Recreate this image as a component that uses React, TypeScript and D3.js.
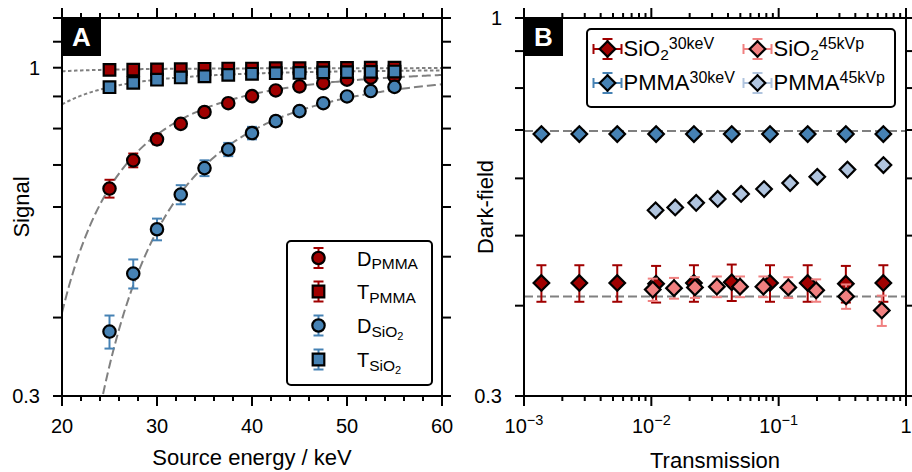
import React from 'react';
import * as d3 from 'd3';

// Panel A: signal vs source energy
const energies = [25, 27.5, 30, 32.5, 35, 37.5, 40, 42.5, 45, 47.5, 50, 52.5, 55];
const dPmma = [0.642, 0.712, 0.769, 0.814, 0.85, 0.878, 0.901, 0.92, 0.934, 0.945, 0.957, 0.964, 0.968];
const dPmmaErr = [0.021, 0.018, 0.014, 0.01, 0.008, 0.007, 0.006, 0.006, 0.005, 0.005, 0.005, 0.005, 0.005];
const tPmma = [0.992, 0.993, 0.994, 0.995, 0.996, 0.997, 0.997, 0.998, 0.998, 0.999, 0.999, 1.0, 1.0];
const tPmmaErr = [0.006, 0.006, 0.005, 0.005, 0.005, 0.005, 0.005, 0.005, 0.005, 0.005, 0.005, 0.005, 0.005];
const dSio2 = [0.38, 0.47, 0.553, 0.628, 0.692, 0.741, 0.787, 0.822, 0.853, 0.878, 0.9, 0.918, 0.932];
const dSio2Err = [0.023, 0.025, 0.022, 0.022, 0.02, 0.018, 0.018, 0.015, 0.012, 0.01, 0.008, 0.008, 0.007];
const tSio2 = [0.931, 0.946, 0.957, 0.965, 0.969, 0.974, 0.978, 0.98, 0.981, 0.983, 0.984, 0.985, 0.986];
const tSio2Err = [0.005, 0.005, 0.005, 0.005, 0.004, 0.004, 0.004, 0.004, 0.004, 0.004, 0.004, 0.004, 0.004];

// fit parameters (D = exp(-a (e0/E)^n), T = exp(-(a (20/E)^3 + c)))
const fitDPmma = { a: 0.899, e0: 20, n: 3.2 };
const fitDSio2 = { a: 0.779, e0: 27.7, n: 3.3 };
const fitTPmma = { a: 0.012, c: 0.001 };
const fitTSio2 = { a: 0.1295, c: 0.0052 };

// Panel B: dark-field vs transmission
const trans30 = [0.00137, 0.00272, 0.0054, 0.0109, 0.0216, 0.0428, 0.0855, 0.169, 0.337, 0.664];
const sio230 = [0.43, 0.43, 0.43, 0.429, 0.43, 0.431, 0.43, 0.43, 0.429, 0.43];
const sio230Err = [0.025, 0.025, 0.025, 0.025, 0.025, 0.025, 0.025, 0.025, 0.025, 0.025];
const pmma30 = [0.691, 0.691, 0.691, 0.691, 0.691, 0.691, 0.691, 0.691, 0.691, 0.691];
const pmma30Err = [0.008, 0.008, 0.008, 0.008, 0.008, 0.008, 0.008, 0.008, 0.008, 0.008];
const transSio245 = [0.01026, 0.01507, 0.022, 0.0327, 0.0497, 0.0759, 0.119, 0.197, 0.3385, 0.6455];
const sio245 = [0.421, 0.423, 0.424, 0.425, 0.425, 0.425, 0.424, 0.42, 0.412, 0.394];
const sio245Err = [0.015, 0.014, 0.014, 0.014, 0.014, 0.014, 0.014, 0.015, 0.016, 0.019];
const transPmma45 = [0.0108, 0.0154, 0.0225, 0.0332, 0.0507, 0.0768, 0.123, 0.201, 0.347, 0.665];
const pmma45 = [0.542, 0.547, 0.555, 0.562, 0.571, 0.58, 0.591, 0.603, 0.617, 0.626];
const pmma45Err = [0.007, 0.007, 0.007, 0.007, 0.007, 0.007, 0.007, 0.007, 0.007, 0.007];
const refPmma = 0.698;
const refSio2 = 0.412;

const FONT = '"Liberation Sans", Arial, Helvetica, sans-serif';
const RED = '#a00000';
const BLUE = '#4682b4';
const LRED = '#f08080';
const LBLUE = '#b0c4de';
const GREY = '#808080';

const PA = { left: 62, right: 442, top: 18, bottom: 396 };
const PB = { left: 524, right: 906, top: 18, bottom: 396 };

const xA = d3.scaleLinear().domain([20, 60]).range([PA.left, PA.right]);
const yA = d3.scaleLog().domain([0.3, 1.2]).range([PA.bottom, PA.top]);
const xB = d3.scaleLog().domain([1e-3, 1]).range([PB.left, PB.right]);
const yB = d3.scaleLog().domain([0.3, 1]).range([PB.bottom, PB.top]);

type Shape = 'circle' | 'square' | 'diamond';

function markerPath(shape: Shape, cx: number, cy: number) {
  if (shape === 'circle') {
    const r = 6.2;
    return `M${cx - r},${cy}a${r},${r} 0 1,0 ${2 * r},0a${r},${r} 0 1,0 ${-2 * r},0Z`;
  }
  if (shape === 'square') {
    const h = 5.8;
    return `M${cx - h},${cy - h}H${cx + h}V${cy + h}H${cx - h}Z`;
  }
  const r = 7.8;
  return `M${cx},${cy - r}L${cx + r},${cy}L${cx},${cy + r}L${cx - r},${cy}Z`;
}

function Series({ xs, ys, errs, xs2, shape, color, ecolor, fill }: any) {
  const x = xs2 as (v: number) => number;
  return (
    <g>
      {xs.map((xv: number, i: number) => {
        const px = x(xv);
        const y0 = ys.scale(ys.v[i] - errs[i]);
        const y1 = ys.scale(ys.v[i] + errs[i]);
        return (
          <g key={'e' + i} stroke={ecolor} strokeWidth={2}>
            <line x1={px} x2={px} y1={y0} y2={y1} />
            <line x1={px - 5} x2={px + 5} y1={y0} y2={y0} />
            <line x1={px - 5} x2={px + 5} y1={y1} y2={y1} />
          </g>
        );
      })}
      {xs.map((xv: number, i: number) => (
        <path key={'m' + i} d={markerPath(shape, x(xv), ys.scale(ys.v[i]))} fill={fill ?? color} stroke="#000" strokeWidth={2.2} />
      ))}
    </g>
  );
}

function Frame({ p, xTicks, yTicks, xs, ys }: any) {
  return (
    <g stroke="#000" strokeWidth={2} fill="none">
      <rect x={p.left} y={p.top} width={p.right - p.left} height={p.bottom - p.top} />
      {xTicks.map((t: any, i: number) => {
        const px = xs(t.v);
        const len = t.major ? 10 : 5;
        return (
          <g key={'x' + i}>
            <line x1={px} x2={px} y1={p.bottom} y2={p.bottom + len} />
            <line x1={px} x2={px} y1={p.top} y2={p.top - len} />
          </g>
        );
      })}
      {yTicks.map((v: number, i: number) => {
        const py = ys(v);
        return (
          <g key={'y' + i}>
            <line x1={p.left} x2={p.left - 9} y1={py} y2={py} />
            <line x1={p.right} x2={p.right + 9} y1={py} y2={py} />
          </g>
        );
      })}
    </g>
  );
}

function PanelTag({ x, y, label }: any) {
  return (
    <g>
      <rect x={x} y={y} width={39} height={38} fill="#000" />
      <text x={x + 19.5} y={y + 28} textAnchor="middle" fontFamily={FONT} fontWeight="bold" fontSize={26} fill="#fff">{label}</text>
    </g>
  );
}

function LegendMarkA({ x, y, shape, color }: any) {
  return (
    <g>
      <g stroke={color} strokeWidth={2}>
        <line x1={x} x2={x} y1={y - 10} y2={y + 10} />
        <line x1={x - 5} x2={x + 5} y1={y - 10} y2={y - 10} />
        <line x1={x - 5} x2={x + 5} y1={y + 10} y2={y + 10} />
      </g>
      <path d={markerPath(shape, x, y)} fill={color} stroke="#000" strokeWidth={2.2} />
    </g>
  );
}

function LegendMarkB({ x, y, color, ecolor }: any) {
  return (
    <g>
      <g stroke={ecolor} strokeWidth={2}>
        <line x1={x} x2={x} y1={y - 10} y2={y + 10} />
        <line x1={x - 5} x2={x + 5} y1={y - 10} y2={y - 10} />
        <line x1={x - 5} x2={x + 5} y1={y + 10} y2={y + 10} />
        <line x1={x - 14} x2={x + 14} y1={y} y2={y} />
        <line x1={x - 14} x2={x - 14} y1={y - 5} y2={y + 5} />
        <line x1={x + 14} x2={x + 14} y1={y - 5} y2={y + 5} />
      </g>
      <path d={markerPath('diamond', x, y)} fill={color} stroke="#000" strokeWidth={2.2} />
    </g>
  );
}

export default function App() {
  const eGrid = d3.range(20, 60.001, 0.25);
  const line = d3.line<[number, number]>().x((d) => xA(d[0])).y((d) => yA(d[1]));
  const dFit = (f: any) => eGrid.map((e) => [e, Math.exp(-f.a * Math.pow(f.e0 / e, f.n))] as [number, number]);
  const tFit = (f: any) => eGrid.map((e) => [e, Math.exp(-(f.a * Math.pow(20 / e, 3) + f.c))] as [number, number]);

  const xTicksA = d3.range(20, 60.001, 2).map((v) => ({ v, major: v % 10 === 0 }));
  const yTicksA = [0.3, 0.4, 0.5, 0.6, 0.7, 0.8, 0.9, 1.0, 1.1, 1.2];
  const xTicksB: { v: number; major: boolean }[] = [];
  [-3, -2, -1].forEach((k) => {
    for (let m = 1; m < 10; m++) xTicksB.push({ v: m * Math.pow(10, k), major: m === 1 });
  });
  xTicksB.push({ v: 1, major: true });
  const yTicksB = [0.3, 0.4, 0.5, 0.6, 0.7, 0.8, 0.9, 1.0];

  const ysA = (v: number[]) => ({ v, scale: yA });
  const ysB = (v: number[]) => ({ v, scale: yB });

  return (
    <svg width={912} height={472} style={{ position: 'absolute', left: 0, top: 0, background: '#fff' }} fontFamily={FONT}>
      <defs>
        <clipPath id="clipA">
          <rect x={PA.left} y={PA.top} width={PA.right - PA.left} height={PA.bottom - PA.top} />
        </clipPath>
        <clipPath id="clipB">
          <rect x={PB.left} y={PB.top} width={PB.right - PB.left} height={PB.bottom - PB.top} />
        </clipPath>
      </defs>

      {/* Panel A */}
      <g clipPath="url(#clipA)" fill="none" stroke={GREY} strokeWidth={2}>
        <path d={line(tFit(fitTPmma)) ?? ''} strokeDasharray="3.5,2.5" />
        <path d={line(tFit(fitTSio2)) ?? ''} strokeDasharray="3.5,2.5" />
        <path d={line(dFit(fitDPmma)) ?? ''} strokeDasharray="9,4" />
        <path d={line(dFit(fitDSio2)) ?? ''} strokeDasharray="9,4" />
      </g>
      <Series xs={energies} xs2={xA} ys={ysA(dPmma)} errs={dPmmaErr} shape="circle" color={RED} ecolor={RED} />
      <Series xs={energies} xs2={xA} ys={ysA(tPmma)} errs={tPmmaErr} shape="square" color={RED} ecolor={RED} />
      <Series xs={energies} xs2={xA} ys={ysA(dSio2)} errs={dSio2Err} shape="circle" color={BLUE} ecolor={BLUE} />
      <Series xs={energies} xs2={xA} ys={ysA(tSio2)} errs={tSio2Err} shape="square" color={BLUE} ecolor={BLUE} />
      <Frame p={PA} xTicks={xTicksA} yTicks={yTicksA} xs={xA} ys={yA} />
      <PanelTag x={PA.left} y={PA.top} label="A" />
      <g fontSize={20} fill="#000">
        {[20, 30, 40, 50, 60].map((v) => (
          <text key={v} x={xA(v)} y={PA.bottom + 37} textAnchor="middle">{v}</text>
        ))}
        <text x={PA.left - 22} y={yA(1) + 7} textAnchor="end">1</text>
        <text x={PA.left - 22} y={yA(0.3) + 7} textAnchor="end">0.3</text>
      </g>
      <text x={(PA.left + PA.right) / 2} y={465} textAnchor="middle" fontSize={22}>Source energy / keV</text>
      <text transform={`translate(29,${(PA.top + PA.bottom) / 2}) rotate(-90)`} textAnchor="middle" fontSize={22}>Signal</text>

      {/* Legend A */}
      <rect x={287} y={241} width={145} height={144} rx={4} fill="#fff" stroke="#000" strokeWidth={2} />
      {[
        { y: 258, shape: 'circle', color: RED, main: 'D', sub: 'PMMA' },
        { y: 291.5, shape: 'square', color: RED, main: 'T', sub: 'PMMA' },
        { y: 325.5, shape: 'circle', color: BLUE, main: 'D', sub: 'SiO' },
        { y: 359.5, shape: 'square', color: BLUE, main: 'T', sub: 'SiO' },
      ].map((e, i) => (
        <g key={i}>
          <LegendMarkA x={318.5} y={e.y} shape={e.shape} color={e.color} />
          <text x={357} y={e.y + 7.5} fontSize={20}>
            {e.main}
            <tspan fontSize={15.5} dy={3.5}>{e.sub}</tspan>
            {e.sub === 'SiO' ? <tspan fontSize={11} dy={3}>2</tspan> : null}
          </text>
        </g>
      ))}

      {/* Panel B */}
      <g clipPath="url(#clipB)" fill="none" stroke={GREY} strokeWidth={2} strokeDasharray="9,4">
        <line x1={PB.left} x2={PB.right} y1={yB(refPmma)} y2={yB(refPmma)} />
        <line x1={PB.left} x2={PB.right} y1={yB(refSio2)} y2={yB(refSio2)} />
      </g>
      <Series xs={trans30} xs2={xB} ys={ysB(sio230)} errs={sio230Err} shape="diamond" color={RED} ecolor={RED} />
      <Series xs={trans30} xs2={xB} ys={ysB(pmma30)} errs={pmma30Err} shape="diamond" color={BLUE} ecolor={BLUE} />
      <Series xs={transSio245} xs2={xB} ys={ysB(sio245)} errs={sio245Err} shape="diamond" color={LRED} ecolor={LRED} />
      <Series xs={transPmma45} xs2={xB} ys={ysB(pmma45)} errs={pmma45Err} shape="diamond" color={LBLUE} ecolor={LBLUE} />
      <Frame p={PB} xTicks={xTicksB} yTicks={yTicksB} xs={xB} ys={yB} />
      <PanelTag x={PB.left} y={PB.top} label="B" />
      <g fontSize={20} fill="#000">
        {[-3, -2, -1].map((k) => (
          <text key={k} x={xB(Math.pow(10, k))} y={PB.bottom + 37} textAnchor="middle">
            10<tspan fontSize={14.5} dy={-8}>{'\u2212' + Math.abs(k)}</tspan>
          </text>
        ))}
        <text x={xB(1)} y={PB.bottom + 37} textAnchor="middle">1</text>
        <text x={PB.left - 22} y={yB(1) + 7} textAnchor="end">1</text>
        <text x={PB.left - 22} y={yB(0.3) + 7} textAnchor="end">0.3</text>
      </g>
      <text x={(PB.left + PB.right) / 2} y={468} textAnchor="middle" fontSize={22}>Transmission</text>
      <text transform={`translate(493,${(PB.top + PB.bottom) / 2}) rotate(-90)`} textAnchor="middle" fontSize={22}>Dark-field</text>

      {/* Legend B */}
      <rect x={587} y={29} width={308} height={78} rx={4} fill="#fff" stroke="#000" strokeWidth={2} />
      {[
        { x: 607.5, y: 49, color: RED, ecolor: RED, main: 'SiO', sub: '2', sup: '30keV' },
        { x: 607.5, y: 83, color: BLUE, ecolor: BLUE, main: 'PMMA', sub: '', sup: '30keV' },
        { x: 757.5, y: 49, color: LRED, ecolor: LRED, main: 'SiO', sub: '2', sup: '45kVp' },
        { x: 757.5, y: 83, color: LBLUE, ecolor: LBLUE, main: 'PMMA', sub: '', sup: '45kVp' },
      ].map((e, i) => (
        <g key={i}>
          <LegendMarkB x={e.x} y={e.y} color={e.color} ecolor={e.ecolor} />
          <text x={e.x + 16} y={e.y + 7} fontSize={22}>
            {e.main}
            {e.sub ? <tspan fontSize={15.5} dy={4}>{e.sub}</tspan> : null}
            <tspan fontSize={16} dy={e.sub ? -11.5 : -7.5}>{e.sup}</tspan>
          </text>
        </g>
      ))}
    </svg>
  );
}
